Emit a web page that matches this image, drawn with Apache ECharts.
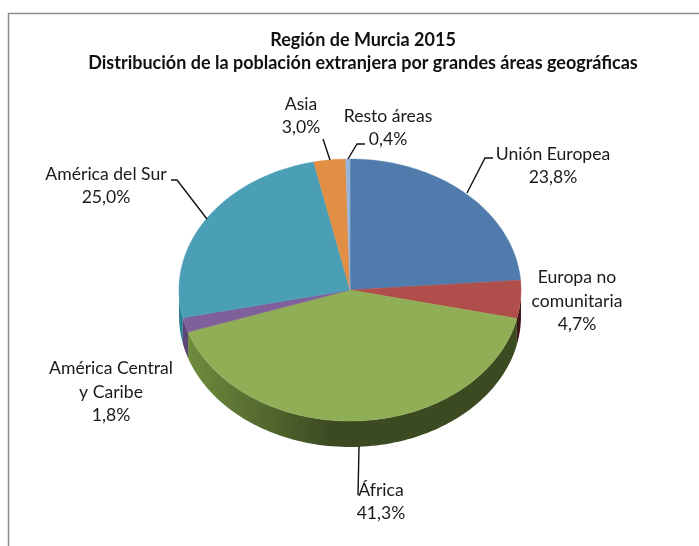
<!DOCTYPE html>
<html><head><meta charset="utf-8">
<style>html,body{margin:0;padding:0;background:#fff}#c{width:699px;height:546px}</style>
<script src="https://cdn.jsdelivr.net/npm/echarts@6/dist/echarts.min.js"></script>
</head><body><div id="c"></div>
<script>
const titleLines = ['Región de Murcia 2015', 'Distribución de la población extranjera por grandes áreas geográficas'];
const categories = ['Unión Europea', 'Europa no\ncomunitaria', 'África', 'América Central\ny Caribe', 'América del Sur', 'Asia', 'Resto áreas'];
const values = [23.8, 4.7, 41.3, 1.8, 25.0, 3.0, 0.4];
const topColors = ['#4f7cad', '#b04e4c', '#90ae56', '#80609a', '#4a9fb7', '#e08f45', '#9ab5db'];
const sideColors = [['#3a5c82','#3a5c82'], ['#5e2524','#3f1716'], ['#72903f','#3c4a22'], ['#5f4779','#4f3a6a'], ['#2f7e92','#2f7e92'], ['#a86a30','#a86a30'], ['#7088a8','#7088a8']];

const geo = {cx: 350, cy: 290, rx: 171, ry: 131, depth: 26};
const labelLayout = [
  {x: 553, y: 166, line: [[467,193],[485,158],[493,158]]},
  {x: 577, y: 301, line: null},
  {x: 381, y: 502, line: [[359,446],[358,495]]},
  {x: 111, y: 392, line: null},
  {x: 106, y: 186, line: [[207,219],[177,180],[171,180]]},
  {x: 301, y: 116, line: [[330,160],[323,139]]},
  {x: 388, y: 128, line: [[348,159],[357,144],[365,144]]}
];
const FONT = 'Lato, Carlito, "Open Sans", sans-serif';
const total = values.reduce((a, b) => a + b, 0);
const starts = values.reduce((acc, v, i) => { acc.push(i ? acc[i-1] + values[i-1] : 0); return acc; }, []);

function pt(deg, dy) {
  const t = deg * Math.PI / 180;
  return [geo.cx + geo.rx * Math.sin(t), geo.cy - geo.ry * Math.cos(t) + (dy || 0)];
}
function arc(a, b, dy) {
  const n = Math.max(2, Math.ceil(Math.abs(b - a) / 1.5)), out = [];
  for (let i = 0; i <= n; i++) out.push(pt(a + (b - a) * i / n, dy));
  return out;
}
function renderSlice(params, api) {
  const i = params.dataIndex;
  const a = starts[i] / total * 360, b = a + api.value(0) / total * 360;
  const children = [];
  const wa = Math.max(a, 90), wb = Math.min(b, 270);
  if (wb > wa) {
    const s = sideColors[i];
    children.push({
      type: 'polygon', z2: 1,
      shape: {points: arc(wa, wb, 0).concat(arc(wb, wa, geo.depth))},
      style: {fill: new echarts.graphic.LinearGradient(geo.cx - geo.rx, 0, geo.cx - 20, 0,
        [{offset: 0, color: s[0]}, {offset: 1, color: s[1]}], true)}
    });
  }
  children.push({
    type: 'polygon', z2: 2,
    shape: {points: [[geo.cx, geo.cy]].concat(arc(a, b, 0))},
    style: {fill: topColors[i], stroke: topColors[i], lineWidth: 0.5}
  });
  const lay = labelLayout[i];
  if (lay.line) {
    children.push({type: 'polyline', z2: 4, shape: {points: lay.line},
      style: {fill: 'none', stroke: '#111', lineWidth: 1.4}});
  }
  children.push({
    type: 'text', z2: 5, x: lay.x, y: lay.y,
    style: {
      text: categories[i] + '\n' + api.value(0).toFixed(1).replace('.', ',') + '%',
      font: '17.6px ' + FONT, fill: '#1a1a1a', align: 'center', verticalAlign: 'middle',
      lineHeight: 23.5
    }
  });
  return {type: 'group', children};
}
const chart = echarts.init(document.getElementById('c'), null, {renderer: 'canvas'});
chart.setOption({
  animation: false,
  backgroundColor: '#fff',
  title: {
    text: titleLines.join('\n'), left: 358, top: 24, textAlign: 'center',
    textStyle: {fontFamily: FONT, fontSize: 18, fontWeight: 'bold', color: '#111', lineHeight: 23}
  },
  graphic: [{type: 'polyline', silent: true, shape: {points: [[8.5, 546], [8.5, 13.5], [699, 13.5]]},
    style: {fill: 'none', stroke: '#8c8c8c', lineWidth: 1.5}}],
  series: [{
    type: 'custom', coordinateSystem: 'none', silent: true, clip: false,
    renderItem: renderSlice,
    data: values.map((v, i) => ({name: categories[i], value: [v]}))
  }]
});
</script></body></html>
